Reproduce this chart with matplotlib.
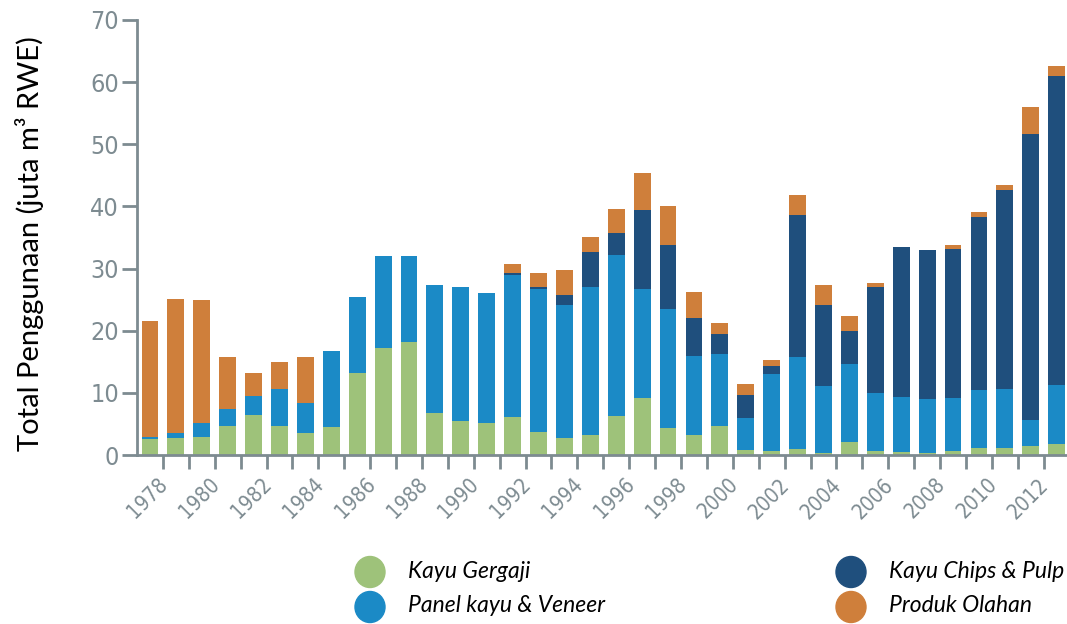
import numpy as np
import matplotlib
matplotlib.use('Agg')
import matplotlib.pyplot as plt
from matplotlib.patches import Ellipse

# Data (juta m3 RWE)
years = list(range(1978, 2014))
kayu_gergaji = [2.5, 2.7, 2.9, 4.6, 6.4, 4.7, 3.6, 4.5, 13.2, 17.3, 18.2, 6.8,
                5.4, 5.1, 6.1, 3.7, 2.7, 3.2, 6.2, 9.1, 4.4, 3.3, 4.6, 0.8,
                0.6, 1.0, 0.4, 2.1, 0.7, 0.5, 0.4, 0.7, 1.2, 1.2, 1.5, 1.7]
panel_veneer = [0.4, 0.9, 2.2, 2.8, 3.1, 6.0, 4.7, 12.3, 12.3, 14.8, 13.9, 20.5,
                21.7, 21.0, 22.8, 23.0, 21.5, 23.8, 26.0, 17.6, 19.1, 12.7, 11.7, 5.1,
                12.4, 14.7, 10.7, 12.6, 9.3, 8.8, 8.6, 8.4, 9.2, 9.4, 4.2, 9.6]
chips_pulp = [0, 0, 0, 0, 0, 0, 0, 0, 0, 0, 0, 0,
              0, 0, 0.4, 0.4, 1.6, 5.7, 3.5, 12.8, 10.3, 6.0, 3.2, 3.8,
              1.4, 22.9, 13.1, 5.2, 17.0, 24.1, 24.0, 24.1, 27.9, 32.1, 46.0, 49.7]
produk_olahan = [18.6, 21.5, 19.9, 8.3, 3.7, 4.3, 7.4, 0, 0, 0, 0, 0,
                 0, 0, 1.4, 2.2, 3.9, 2.3, 3.9, 5.9, 6.3, 4.3, 1.7, 1.8,
                 0.9, 3.2, 3.2, 2.4, 0.7, 0, 0, 0.6, 0.8, 0.8, 4.3, 1.6]

series_names = ['Kayu Gergaji', 'Panel kayu & Veneer', 'Kayu Chips & Pulp', 'Produk Olahan']
colors = ['#9ec27a', '#1b8ac6', '#1f4f7d', '#cf7f3b']
y_ticks = [0, 10, 20, 30, 40, 50, 60, 70]
year_labels = years[::2]

axis_grey = '#7d8b91'
tick_font = ['DejaVu Sans']
text_font = ['Lato', 'DejaVu Sans']

fig = plt.figure(figsize=(10.67, 6.24), dpi=100)
ax = fig.add_axes([0.1284, 0.2708, 0.8716, 0.6972])

x = np.array(years)
bottom = np.zeros(len(years))
for vals, name, col in zip([kayu_gergaji, panel_veneer, chips_pulp, produk_olahan],
                           series_names, colors):
    ax.bar(x, vals, width=0.65, bottom=bottom, color=col, label=name, zorder=2)
    bottom += np.array(vals)

ax.set_xlim(1977.5, 2013.4)
ax.set_ylim(0, 70)

for side in ['top', 'right']:
    ax.spines[side].set_visible(False)
for side in ['left', 'bottom']:
    ax.spines[side].set_color(axis_grey)
    ax.spines[side].set_linewidth(2)

ax.set_yticks(y_ticks)
ax.set_yticklabels([str(v) for v in y_ticks], family=tick_font, fontstretch='condensed',
                   fontsize=18, color=axis_grey)
ax.tick_params(axis='y', direction='out', length=11, width=2, color=axis_grey, pad=2)

# ticks between bars, labels every second year
ax.set_xticks(np.array(year_labels) + 0.3)
ax.set_xticklabels([str(y) for y in year_labels], family=tick_font, fontstretch='condensed',
                   fontsize=15, color=axis_grey, rotation=45, ha='right',
                   rotation_mode='anchor')
ax.tick_params(axis='x', which='major', length=0, pad=14)
ax.set_xticks(x[:-1] + 0.5, minor=True)
ax.tick_params(axis='x', which='minor', direction='out', length=10, width=2, color=axis_grey)

fig.text(0.028, 0.609, 'Total Penggunaan (juta m³ RWE)', rotation=90,
         ha='center', va='center', fontsize=21, family=text_font, color='black')

# legend drawn by hand: two columns of dots with italic labels
legend_pos = [(370, 572), (370, 607), (851, 572), (851, 607)]
W, H = 1067, 624
for (px, py), name, col in zip(legend_pos, series_names, colors):
    fig.add_artist(Ellipse((px / W, 1 - py / H), 30 / W, 31 / H,
                           transform=fig.transFigure, color=col))
    fig.text((px + 38) / W, 1 - (py - 1) / H, name, ha='left', va='center',
             fontsize=16.5, style='italic', family=text_font, color='black')

fig.savefig('out.png', dpi=100)
